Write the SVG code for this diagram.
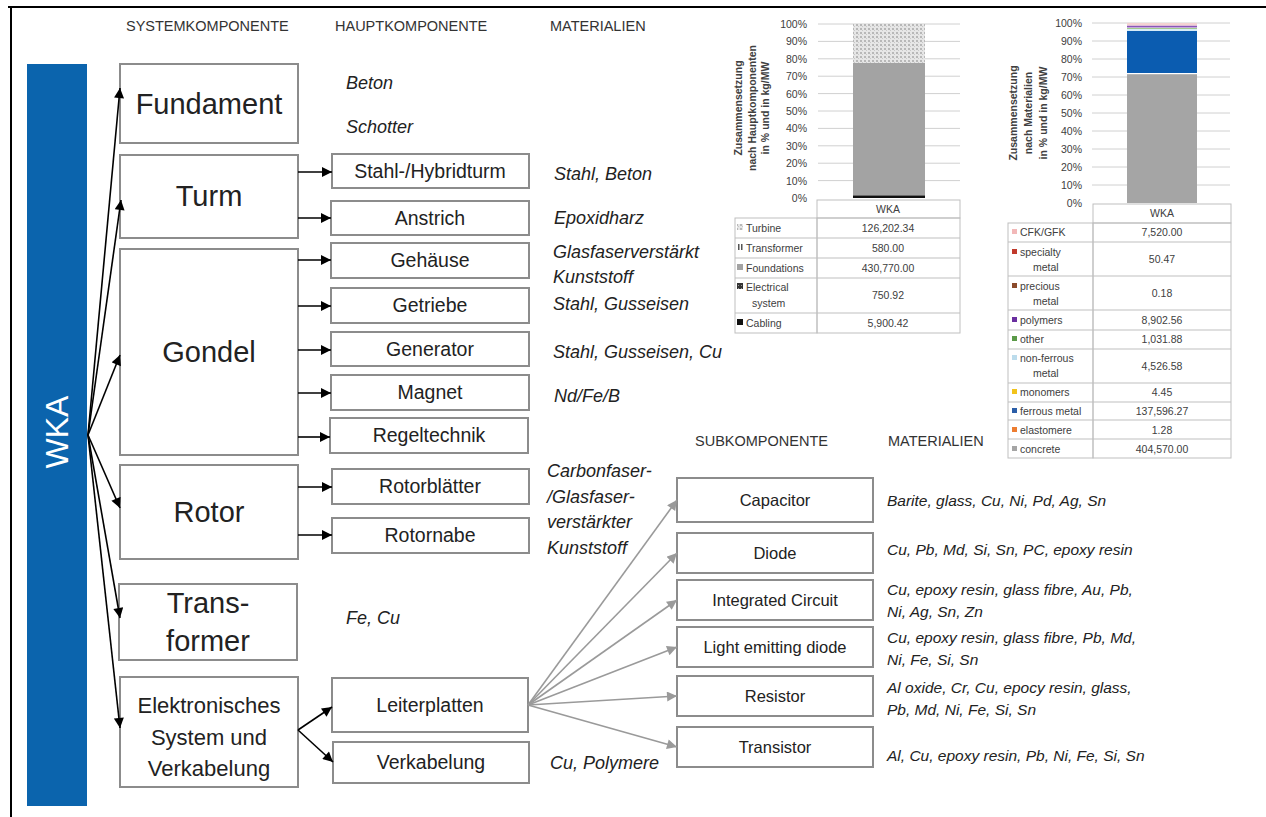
<svg xmlns="http://www.w3.org/2000/svg" width="1266" height="817" viewBox="0 0 1266 817">
<defs>
<style>
.bx{fill:#fff;stroke:#8c8c8c;stroke-width:2}
.t{font-family:"Liberation Sans",Arial,sans-serif;fill:#222}
.big{font-size:29px;text-anchor:middle}
.mid{font-size:19.5px;text-anchor:middle}
.sub{font-size:16.5px;text-anchor:middle}
.it{font-style:italic;font-size:18px}
.its{font-style:italic;font-size:15.5px}
.hd{font-size:14.5px;fill:#333}
.ch{font-family:"Liberation Sans",Arial,sans-serif;fill:#404040;font-size:10.5px}
.chr{text-anchor:end}
.chc{text-anchor:middle}
.ax{font-family:"Liberation Sans",Arial,sans-serif;fill:#404040;font-size:10.5px;font-weight:bold;text-anchor:middle}
.grid{stroke:#d0d0d0;stroke-width:1}
.tb{fill:none;stroke:#bfbfbf;stroke-width:1}
.ar{fill:none;stroke:#000;stroke-width:1.6}
.ag{fill:none;stroke:#9a9a9a;stroke-width:1.6}
</style>
<marker id="ah" viewBox="0 0 10 10" refX="10" refY="5" markerWidth="11" markerHeight="10" markerUnits="userSpaceOnUse" orient="auto"><path d="M0,0 L10,5 L0,10 z" fill="#000"/></marker>
<marker id="ahg" viewBox="0 0 10 10" refX="10" refY="5" markerWidth="11" markerHeight="10" markerUnits="userSpaceOnUse" orient="auto"><path d="M0,0 L10,5 L0,10 z" fill="#9a9a9a"/></marker>
<pattern id="dots" width="4" height="4" patternUnits="userSpaceOnUse"><rect width="4" height="4" fill="#e6e6e6"/><rect x="0" y="0" width="2" height="2" fill="#b8b8b8"/><rect x="2" y="2" width="1" height="1" fill="#c8c8c8"/></pattern>
<pattern id="dark" width="3" height="3" patternUnits="userSpaceOnUse"><rect width="3" height="3" fill="#333"/><rect width="1" height="1" fill="#999"/></pattern>
</defs>
<rect width="1266" height="817" fill="#fff"/>
<!-- frame -->
<line x1="8" y1="7" x2="1266" y2="7" stroke="#000" stroke-width="2"/>
<line x1="11" y1="7" x2="11" y2="817" stroke="#000" stroke-width="2"/>

<!-- headers -->
<text class="t hd" x="126" y="31">SYSTEMKOMPONENTE</text>
<text class="t hd" x="335" y="31">HAUPTKOMPONENTE</text>
<text class="t hd" x="550" y="31">MATERIALIEN</text>
<text class="t hd" x="695" y="446">SUBKOMPONENTE</text>
<text class="t hd" x="888" y="446">MATERIALIEN</text>

<!-- WKA -->
<g id="wka">
<rect x="27" y="64" width="60" height="742" fill="#0b64ad"/>
<text x="0" y="0" transform="translate(68,432) rotate(-90)" font-family="Liberation Sans, Arial, sans-serif" font-size="32" fill="#fff" text-anchor="middle">WKA</text>
</g>

<!-- system components -->
<g id="fundament"><rect class="bx" x="120" y="64" width="178" height="79"/><text class="t big" x="209" y="114">Fundament</text></g>
<g id="turm"><rect class="bx" x="120" y="155" width="178" height="83"/><text class="t big" x="209" y="206">Turm</text></g>
<g id="gondel"><rect class="bx" x="120" y="249" width="178" height="206"/><text class="t big" x="209" y="362">Gondel</text></g>
<g id="rotor"><rect class="bx" x="120" y="465" width="178" height="94"/><text class="t big" x="209" y="522">Rotor</text></g>
<g id="transformer"><rect class="bx" x="119" y="584" width="178" height="76"/><text class="t big" x="208" y="613">Trans-</text><text class="t big" x="208" y="651">former</text></g>
<g id="elektronisches"><rect class="bx" x="120" y="677" width="178" height="110"/><text class="t" x="209" y="713" font-size="22" text-anchor="middle">Elektronisches</text><text class="t" x="209" y="745" font-size="22" text-anchor="middle">System und</text><text class="t" x="209" y="776" font-size="22" text-anchor="middle">Verkabelung</text></g>

<!-- main components -->
<g id="stahlturm"><rect class="bx" x="332" y="154" width="197" height="34"/><text class="t mid" x="430" y="178">Stahl-/Hybridturm</text></g>
<g id="anstrich"><rect class="bx" x="331" y="201" width="198" height="34"/><text class="t mid" x="430" y="225">Anstrich</text></g>
<g id="gehaeuse"><rect class="bx" x="331" y="243" width="198" height="35"/><text class="t mid" x="430" y="267">Gehäuse</text></g>
<g id="getriebe"><rect class="bx" x="331" y="288" width="198" height="35"/><text class="t mid" x="430" y="312">Getriebe</text></g>
<g id="generator"><rect class="bx" x="331" y="332" width="198" height="34"/><text class="t mid" x="430" y="356">Generator</text></g>
<g id="magnet"><rect class="bx" x="331" y="375" width="198" height="35"/><text class="t mid" x="430" y="399">Magnet</text></g>
<g id="regeltechnik"><rect class="bx" x="330" y="418" width="198" height="35"/><text class="t mid" x="429" y="442">Regeltechnik</text></g>
<g id="rotorblaetter"><rect class="bx" x="332" y="469" width="197" height="35"/><text class="t mid" x="430" y="493">Rotorblätter</text></g>
<g id="rotornabe"><rect class="bx" x="332" y="518" width="197" height="35"/><text class="t mid" x="430" y="542">Rotornabe</text></g>
<g id="leiterplatten"><rect class="bx" x="332" y="678" width="196" height="54"/><text class="t mid" x="430" y="712">Leiterplatten</text></g>
<g id="verkabelung"><rect class="bx" x="333" y="742" width="196" height="41"/><text class="t mid" x="431" y="769">Verkabelung</text></g>

<!-- subcomponents -->
<g id="capacitor"><rect class="bx" x="677" y="478" width="196" height="44"/><text class="t sub" x="775" y="506">Capacitor</text></g>
<g id="diode"><rect class="bx" x="677" y="533" width="196" height="40"/><text class="t sub" x="775" y="559">Diode</text></g>
<g id="ic"><rect class="bx" x="677" y="580" width="196" height="40"/><text class="t sub" x="775" y="606">Integrated Circuit</text></g>
<g id="led"><rect class="bx" x="677" y="627" width="196" height="40"/><text class="t sub" x="775" y="653">Light emitting diode</text></g>
<g id="resistor"><rect class="bx" x="677" y="676" width="196" height="40"/><text class="t sub" x="775" y="702">Resistor</text></g>
<g id="transistor"><rect class="bx" x="677" y="727" width="196" height="40"/><text class="t sub" x="775" y="753">Transistor</text></g>

<!-- materials -->
<g id="materials">
<text class="t it" x="346" y="89">Beton</text>
<text class="t it" x="346" y="133">Schotter</text>
<text class="t it" x="554" y="180">Stahl, Beton</text>
<text class="t it" x="554" y="224">Epoxidharz</text>
<text class="t it" x="553" y="258">Glasfaserverstärkt</text>
<text class="t it" x="553" y="283">Kunststoff</text>
<text class="t it" x="553" y="310">Stahl, Gusseisen</text>
<text class="t it" x="553" y="358">Stahl, Gusseisen, Cu</text>
<text class="t it" x="554" y="402">Nd/Fe/B</text>
<text class="t it" x="547" y="477">Carbonfaser-</text>
<text class="t it" x="547" y="503">/Glasfaser-</text>
<text class="t it" x="547" y="528">verstärkter</text>
<text class="t it" x="547" y="554">Kunststoff</text>
<text class="t it" x="346" y="624">Fe, Cu</text>
<text class="t it" x="550" y="769">Cu, Polymere</text>
<text class="t its" x="887" y="506">Barite, glass, Cu, Ni, Pd, Ag, Sn</text>
<text class="t its" x="887" y="555">Cu, Pb, Md, Si, Sn, PC, epoxy resin</text>
<text class="t its" x="887" y="595">Cu, epoxy resin, glass fibre, Au, Pb,</text>
<text class="t its" x="887" y="617">Ni, Ag, Sn, Zn</text>
<text class="t its" x="887" y="643">Cu, epoxy resin, glass fibre, Pb, Md,</text>
<text class="t its" x="887" y="665">Ni, Fe, Si, Sn</text>
<text class="t its" x="887" y="693">Al oxide, Cr, Cu, epocy resin, glass,</text>
<text class="t its" x="887" y="715">Pb, Md, Ni, Fe, Si, Sn</text>
<text class="t its" x="887" y="761">Al, Cu, epoxy resin, Pb, Ni, Fe, Si, Sn</text>
</g>

<!-- connectors -->
<g id="connectors">
<line class="ar" x1="88" y1="435" x2="120" y2="88" marker-end="url(#ah)"/>
<line class="ar" x1="88" y1="435" x2="121" y2="200" marker-end="url(#ah)"/>
<line class="ar" x1="88" y1="435" x2="120" y2="355" marker-end="url(#ah)"/>
<line class="ar" x1="88" y1="435" x2="120" y2="508" marker-end="url(#ah)"/>
<line class="ar" x1="88" y1="435" x2="120" y2="618" marker-end="url(#ah)"/>
<line class="ar" x1="88" y1="435" x2="120" y2="728" marker-end="url(#ah)"/>
<line class="ar" x1="298" y1="172" x2="332" y2="172" marker-end="url(#ah)"/>
<line class="ar" x1="298" y1="218" x2="331" y2="218" marker-end="url(#ah)"/>
<line class="ar" x1="298" y1="260" x2="331" y2="260" marker-end="url(#ah)"/>
<line class="ar" x1="298" y1="306" x2="331" y2="306" marker-end="url(#ah)"/>
<line class="ar" x1="298" y1="350" x2="331" y2="350" marker-end="url(#ah)"/>
<line class="ar" x1="298" y1="393" x2="331" y2="393" marker-end="url(#ah)"/>
<line class="ar" x1="298" y1="437" x2="330" y2="437" marker-end="url(#ah)"/>
<line class="ar" x1="298" y1="487" x2="332" y2="487" marker-end="url(#ah)"/>
<line class="ar" x1="298" y1="535" x2="332" y2="535" marker-end="url(#ah)"/>
<line class="ar" x1="298" y1="730" x2="332" y2="707" marker-end="url(#ah)"/>
<line class="ar" x1="298" y1="730" x2="333" y2="762" marker-end="url(#ah)"/>
<line class="ag" x1="528" y1="705" x2="677" y2="500" marker-end="url(#ahg)"/>
<line class="ag" x1="528" y1="705" x2="677" y2="553" marker-end="url(#ahg)"/>
<line class="ag" x1="528" y1="705" x2="677" y2="600" marker-end="url(#ahg)"/>
<line class="ag" x1="528" y1="705" x2="677" y2="647" marker-end="url(#ahg)"/>
<line class="ag" x1="528" y1="705" x2="677" y2="696" marker-end="url(#ahg)"/>
<line class="ag" x1="528" y1="705" x2="677" y2="747" marker-end="url(#ahg)"/>
</g>

<!-- chart 1 -->
<g id="chart1">
<g class="grid">
<line x1="818" y1="24" x2="960" y2="24"/><line x1="818" y1="41.4" x2="960" y2="41.4"/><line x1="818" y1="58.8" x2="960" y2="58.8"/><line x1="818" y1="76.2" x2="960" y2="76.2"/><line x1="818" y1="93.6" x2="960" y2="93.6"/><line x1="818" y1="111" x2="960" y2="111"/><line x1="818" y1="128.4" x2="960" y2="128.4"/><line x1="818" y1="145.8" x2="960" y2="145.8"/><line x1="818" y1="163.2" x2="960" y2="163.2"/><line x1="818" y1="180.6" x2="960" y2="180.6"/>
</g>
<rect x="853" y="24" width="72" height="39" fill="url(#dots)"/>
<rect x="853" y="63" width="72" height="133" fill="#a3a3a3"/>
<rect x="853" y="195.6" width="72" height="2.4" fill="#111"/>
<g class="ch chr">
<text x="807" y="28">100%</text><text x="807" y="45.4">90%</text><text x="807" y="62.8">80%</text><text x="807" y="80.2">70%</text><text x="807" y="97.6">60%</text><text x="807" y="115">50%</text><text x="807" y="132.4">40%</text><text x="807" y="149.8">30%</text><text x="807" y="167.2">20%</text><text x="807" y="184.6">10%</text><text x="807" y="202">0%</text>
</g>
<text class="ax" transform="translate(741.5,108) rotate(-90)">Zusammensetzung</text>
<text class="ax" transform="translate(755.5,108) rotate(-90)">nach Hauptkomponenten</text>
<text class="ax" transform="translate(769,108) rotate(-90)">in % und in kg/MW</text>
<!-- table -->
<rect class="tb" x="817" y="200" width="143" height="18"/>
<rect class="tb" x="735" y="218" width="82" height="115"/>
<rect class="tb" x="817" y="218" width="143" height="115"/>
<g class="tb"><line x1="735" y1="238" x2="960" y2="238"/><line x1="735" y1="258" x2="960" y2="258"/><line x1="735" y1="278" x2="960" y2="278"/><line x1="735" y1="313" x2="960" y2="313"/></g>
<text class="ch chc" x="888" y="213">WKA</text>
<rect x="737" y="224" width="6" height="6" fill="url(#dots)"/>
<rect x="738" y="244" width="1.5" height="6" fill="#555"/><rect x="741" y="244" width="1.5" height="6" fill="#555"/>
<rect x="737" y="264" width="6" height="6" fill="#a3a3a3"/>
<rect x="737" y="283" width="6" height="6" fill="url(#dark)"/>
<rect x="737" y="319" width="6" height="6" fill="#111"/>
<text class="ch" x="746" y="232">Turbine</text>
<text class="ch" x="746" y="252">Transformer</text>
<text class="ch" x="746" y="272">Foundations</text>
<text class="ch" x="746" y="291">Electrical</text>
<text class="ch" x="752" y="307">system</text>
<text class="ch" x="746" y="327">Cabling</text>
<text class="ch chc" x="888" y="232">126,202.34</text>
<text class="ch chc" x="888" y="252">580.00</text>
<text class="ch chc" x="888" y="272">430,770.00</text>
<text class="ch chc" x="888" y="299">750.92</text>
<text class="ch chc" x="888" y="327">5,900.42</text>
</g>

<!-- chart 2 -->
<g id="chart2">
<g class="grid">
<line x1="1092" y1="23" x2="1230" y2="23"/><line x1="1092" y1="41" x2="1230" y2="41"/><line x1="1092" y1="59" x2="1230" y2="59"/><line x1="1092" y1="77" x2="1230" y2="77"/><line x1="1092" y1="95" x2="1230" y2="95"/><line x1="1092" y1="113" x2="1230" y2="113"/><line x1="1092" y1="131" x2="1230" y2="131"/><line x1="1092" y1="149" x2="1230" y2="149"/><line x1="1092" y1="167" x2="1230" y2="167"/><line x1="1092" y1="185" x2="1230" y2="185"/>
</g>
<rect x="1127" y="74" width="70" height="129" fill="#a5a5a5"/>
<rect x="1127" y="31" width="70" height="42" fill="#0b5cb0"/>
<rect x="1127" y="73" width="70" height="1.2" fill="#fff"/>
<rect x="1127" y="28.5" width="70" height="2.5" fill="#d6ebf7"/>
<rect x="1127" y="28" width="70" height="0.6" fill="#70ad47"/>
<rect x="1127" y="25.5" width="70" height="2" fill="#8a55b8"/>
<rect x="1127" y="23" width="70" height="2.5" fill="#f3d2d2"/>
<g class="ch chr">
<text x="1082" y="27">100%</text><text x="1082" y="45">90%</text><text x="1082" y="63">80%</text><text x="1082" y="81">70%</text><text x="1082" y="99">60%</text><text x="1082" y="117">50%</text><text x="1082" y="135">40%</text><text x="1082" y="153">30%</text><text x="1082" y="171">20%</text><text x="1082" y="189">10%</text><text x="1082" y="207">0%</text>
</g>
<text class="ax" transform="translate(1016.5,113) rotate(-90)">Zusammensetzung</text>
<text class="ax" transform="translate(1031.5,113) rotate(-90)">nach Materialien</text>
<text class="ax" transform="translate(1046.5,113) rotate(-90)">in % und in kg/MW</text>
<rect class="tb" x="1093" y="204" width="138" height="19"/>
<rect class="tb" x="1008" y="223" width="85" height="235"/>
<rect class="tb" x="1093" y="223" width="138" height="235"/>
<g class="tb"><line x1="1008" y1="242" x2="1231" y2="242"/><line x1="1008" y1="276" x2="1231" y2="276"/><line x1="1008" y1="310" x2="1231" y2="310"/><line x1="1008" y1="330" x2="1231" y2="330"/><line x1="1008" y1="349" x2="1231" y2="349"/><line x1="1008" y1="383" x2="1231" y2="383"/><line x1="1008" y1="402" x2="1231" y2="402"/><line x1="1008" y1="420" x2="1231" y2="420"/><line x1="1008" y1="439" x2="1231" y2="439"/></g>
<text class="ch chc" x="1162" y="217">WKA</text>
<rect x="1012" y="229" width="5" height="5" fill="#f2b8b8"/>
<rect x="1012" y="249" width="5" height="5" fill="#c0392b"/>
<rect x="1012" y="283" width="5" height="5" fill="#8b4a2b"/>
<rect x="1012" y="317" width="5" height="5" fill="#6a2fa0"/>
<rect x="1012" y="336" width="5" height="5" fill="#5b9a48"/>
<rect x="1012" y="355" width="5" height="5" fill="#bcdcec"/>
<rect x="1012" y="389" width="5" height="5" fill="#f2c31b"/>
<rect x="1012" y="408" width="5" height="5" fill="#2b5ea8"/>
<rect x="1012" y="427" width="5" height="5" fill="#ed7d31"/>
<rect x="1012" y="446" width="5" height="5" fill="#a5a5a5"/>
<text class="ch" x="1020" y="236">CFK/GFK</text>
<text class="ch" x="1020" y="256">specialty</text>
<text class="ch" x="1033" y="271">metal</text>
<text class="ch" x="1020" y="290">precious</text>
<text class="ch" x="1033" y="305">metal</text>
<text class="ch" x="1020" y="324">polymers</text>
<text class="ch" x="1020" y="343">other</text>
<text class="ch" x="1020" y="362">non-ferrous</text>
<text class="ch" x="1033" y="377">metal</text>
<text class="ch" x="1020" y="396">monomers</text>
<text class="ch" x="1020" y="415">ferrous metal</text>
<text class="ch" x="1020" y="434">elastomere</text>
<text class="ch" x="1020" y="453">concrete</text>
<text class="ch chc" x="1162" y="236">7,520.00</text>
<text class="ch chc" x="1162" y="263">50.47</text>
<text class="ch chc" x="1162" y="297">0.18</text>
<text class="ch chc" x="1162" y="324">8,902.56</text>
<text class="ch chc" x="1162" y="343">1,031.88</text>
<text class="ch chc" x="1162" y="370">4,526.58</text>
<text class="ch chc" x="1162" y="396">4.45</text>
<text class="ch chc" x="1162" y="415">137,596.27</text>
<text class="ch chc" x="1162" y="434">1.28</text>
<text class="ch chc" x="1162" y="453">404,570.00</text>
</g>
</svg>
